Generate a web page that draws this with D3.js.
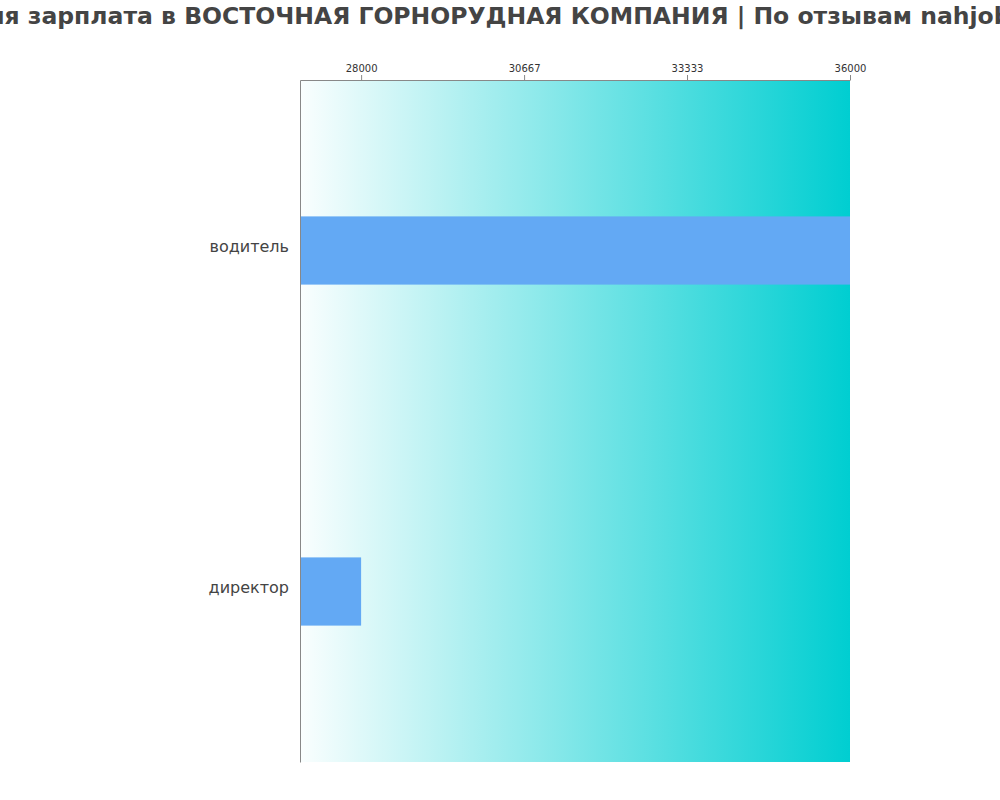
<!DOCTYPE html>
<html>
<head>
<meta charset="utf-8">
<script src="https://cdn.jsdelivr.net/npm/d3@7"></script>
<style>
  body { margin: 0; background: #fff; }
  text { font-family: "DejaVu Sans", sans-serif; }
</style>
</head>
<body>
<div class="canvas"></div>
<script>
// data
const jobs = ["водитель", "директор"]
const salaries = [36000, 28000]
const tickValues = [28000, 30667, 33333, 36000]
const title = "Средняя зарплата в ВОСТОЧНАЯ ГОРНОРУДНАЯ КОМПАНИЯ | По отзывам nahjob.ru"

// settings
const svgWidth = 1000
const svgHeight = 800
const margin = {top: 80, bottom: 38, left: 300, right: 150}
const w = svgWidth - margin.left - margin.right
const h = svgHeight - margin.top - margin.bottom

const svg = d3.select(".canvas")
    .append("svg")
    .attr("width", svgWidth)
    .attr("height", svgHeight)

const defs = svg.append("defs")
const grad = defs.append("linearGradient")
    .attr("id", "bg")
    .attr("x1", "0%").attr("x2", "100%")
grad.append("stop").attr("offset", "0%").attr("stop-color", "#00ced1").attr("stop-opacity", 0.02)
grad.append("stop").attr("offset", "100%").attr("stop-color", "#00ced1").attr("stop-opacity", 1)

svg.append("text")
    .attr("x", 476)
    .attr("y", 24)
    .attr("text-anchor", "middle")
    .attr("font-size", 23.5)
    .attr("font-weight", "bold")
    .attr("fill", "#444")
    .text(title)

const graph = svg.append("g")
    .attr("transform", `translate(${margin.left}, ${margin.top})`)

const x = d3.scaleLinear().domain([27000, 36000]).range([0, w])
const y = d3.scaleBand().domain(jobs).range([0, h]).paddingInner(0.8).paddingOuter(0.4)

graph.append("rect")
    .attr("width", w)
    .attr("height", h)
    .attr("fill", "url(#bg)")

graph.selectAll(".bar")
    .data(jobs)
    .enter()
    .append("rect")
        .attr("class", "bar")
        .attr("x", 0)
        .attr("y", d => y(d))
        .attr("width", (d, i) => x(salaries[i]))
        .attr("height", y.bandwidth())
        .attr("fill", "#63a9f4")

const xAxis = graph.append("g")
    .call(d3.axisTop(x).tickValues(tickValues).tickSize(5).tickSizeOuter(0).tickFormat(d3.format("d")))
xAxis.selectAll("text").attr("font-size", 10).attr("fill", "#333")
xAxis.selectAll("line, path").attr("stroke", "#888")

const yAxis = graph.append("g")
    .call(d3.axisLeft(y).tickSize(0).tickPadding(11))
yAxis.select("path").attr("stroke", "#888")
yAxis.selectAll("text").attr("font-size", 16).attr("fill", "#444").attr("dy", "0.1em")
</script>
</body>
</html>
